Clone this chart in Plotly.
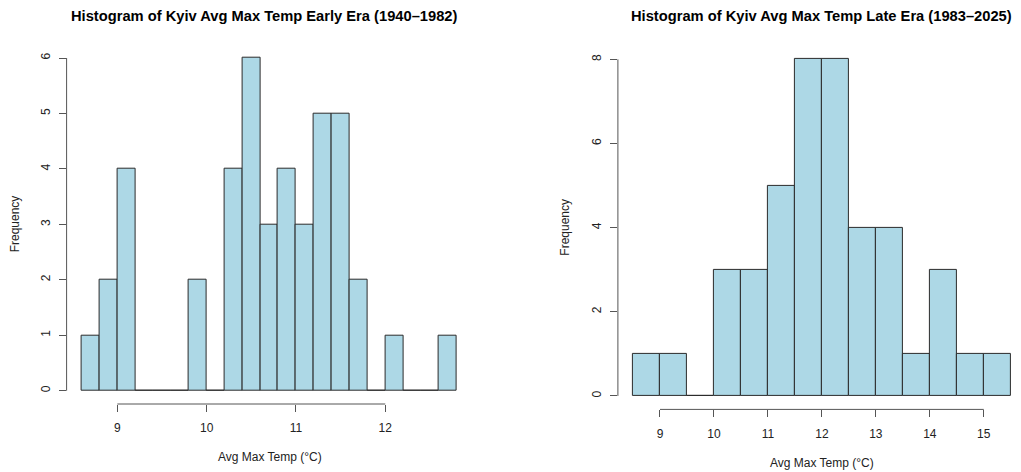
import plotly.graph_objects as go

# ---- data ----
early_edges = [8.6, 8.8, 9.0, 9.2, 9.4, 9.6, 9.8, 10.0, 10.2, 10.4, 10.6, 10.8,
               11.0, 11.2, 11.4, 11.6, 11.8, 12.0, 12.2, 12.4, 12.6, 12.8]
early_counts = [1, 2, 4, 0, 0, 0, 2, 0, 4, 6, 3, 4, 3, 5, 5, 2, 0, 1, 0, 0, 1]
early_xticks = [9, 10, 11, 12]
early_yticks = [0, 1, 2, 3, 4, 5, 6]

late_edges = [8.5, 9.0, 9.5, 10.0, 10.5, 11.0, 11.5, 12.0, 12.5, 13.0, 13.5,
              14.0, 14.5, 15.0, 15.5]
late_counts = [1, 1, 0, 3, 3, 5, 8, 8, 4, 4, 1, 3, 1, 1]
late_xticks = [9, 10, 11, 12, 13, 14, 15]
late_yticks = [0, 2, 4, 6, 8]

titles = ["Histogram of Kyiv Avg Max Temp Early Era (1940\u20131982)",
          "Histogram of Kyiv Avg Max Temp Late Era (1983\u20132025)"]
xlabel = "Avg Max Temp (\u00b0C)"
ylabel = "Frequency"

W, H = 1021, 472
FONT = "Liberation Sans, Arial, sans-serif"
FILL = "#ADD8E6"
EDGE = "#2a2a2a"
AXC = "#555555"


def px_x(p):
    return p / W


def px_y(p):
    return 1 - p / H


fig = go.Figure()

panels = [
    dict(edges=early_edges, counts=early_counts, xt=early_xticks, yt=early_yticks,
         xr=[8.432, 12.968], yr=[-0.24, 6.24],
         xd=[px_x(66.6), px_x(471.7)], yd=[px_y(404.0), px_y(44.7)],
         title_x=264, xl_x=269.5, xl_y=456.7, yl_x=15, title=titles[0]),
    dict(edges=late_edges, counts=late_counts, xt=late_xticks, yt=late_yticks,
         xr=[8.22, 15.69], yr=[-0.32, 8.32],
         xd=[px_x(617.9), 1.0], yd=[px_y(409.4), px_y(45.9)],
         title_x=821, xl_x=822, xl_y=462.7, yl_x=565, title=titles[1]),
]

annotations = []
shapes = []
for i, p in enumerate(panels):
    n = "" if i == 0 else str(i + 1)
    xa, ya = "x" + n, "y" + n
    e = p["edges"]
    centers = [(a + b) / 2 for a, b in zip(e[:-1], e[1:])]
    widths = [b - a for a, b in zip(e[:-1], e[1:])]
    fig.add_trace(go.Bar(
        x=centers, y=p["counts"], width=widths, xaxis=xa, yaxis=ya,
        marker=dict(color=FILL, line=dict(color=EDGE, width=1)),
        showlegend=False, hoverinfo="x+y"))
    axis_common = dict(showgrid=False, zeroline=False, showline=False,
                       ticks="outside", ticklen=7, tickcolor=AXC, tickwidth=1,
                       tickfont=dict(family=FONT, size=12, color="#222"),
                       automargin=False, fixedrange=True)
    fig.update_layout(**{
        ("xaxis" + n): dict(domain=p["xd"], range=p["xr"], tickvals=p["xt"],
                            anchor=ya, ticklabelstandoff=6, **axis_common),
        ("yaxis" + n): dict(domain=p["yd"], range=p["yr"], tickvals=p["yt"],
                            anchor=xa, tickangle=-90, ticklabelstandoff=4,
                            **axis_common),
    })
    # axis lines spanning first to last tick (R style)
    shapes.append(dict(type="line", xref=xa, yref=ya + " domain",
                       x0=p["xt"][0], x1=p["xt"][-1], y0=0, y1=0,
                       line=dict(color=AXC, width=1)))
    shapes.append(dict(type="line", xref=xa + " domain", yref=ya,
                       x0=0, x1=0, y0=p["yt"][0], y1=p["yt"][-1],
                       line=dict(color=AXC, width=1)))
    annotations.append(dict(text="<b>" + p["title"] + "</b>", xref="paper", yref="paper",
                            x=px_x(p["title_x"]), y=px_y(16), xanchor="center",
                            yanchor="middle", showarrow=False,
                            font=dict(family=FONT, size=14.7, color="#000")))
    annotations.append(dict(text=xlabel, xref="paper", yref="paper",
                            x=px_x(p["xl_x"]), y=px_y(p["xl_y"]), xanchor="center",
                            yanchor="middle", showarrow=False,
                            font=dict(family=FONT, size=12, color="#222")))
    annotations.append(dict(text=ylabel, xref="paper", yref="paper",
                            x=px_x(p["yl_x"]),
                            y=(p["yd"][0] + p["yd"][1]) / 2, xanchor="center",
                            yanchor="middle", textangle=-90, showarrow=False,
                            font=dict(family=FONT, size=12, color="#222")))

fig.update_layout(width=W, height=H, margin=dict(l=0, r=0, t=0, b=0),
                  plot_bgcolor="white", paper_bgcolor="white",
                  bargap=0, annotations=annotations, shapes=shapes,
                  font=dict(family=FONT))

fig.write_html("out.html", config={"displayModeBar": False})

# remove the default page margin so the figure fills the window exactly
with open("out.html", "r", encoding="utf-8") as f:
    html = f.read()
html = html.replace("<head>", "<head><style>html,body{margin:0;padding:0;overflow:hidden;}</style>", 1)
with open("out.html", "w", encoding="utf-8") as f:
    f.write(html)
